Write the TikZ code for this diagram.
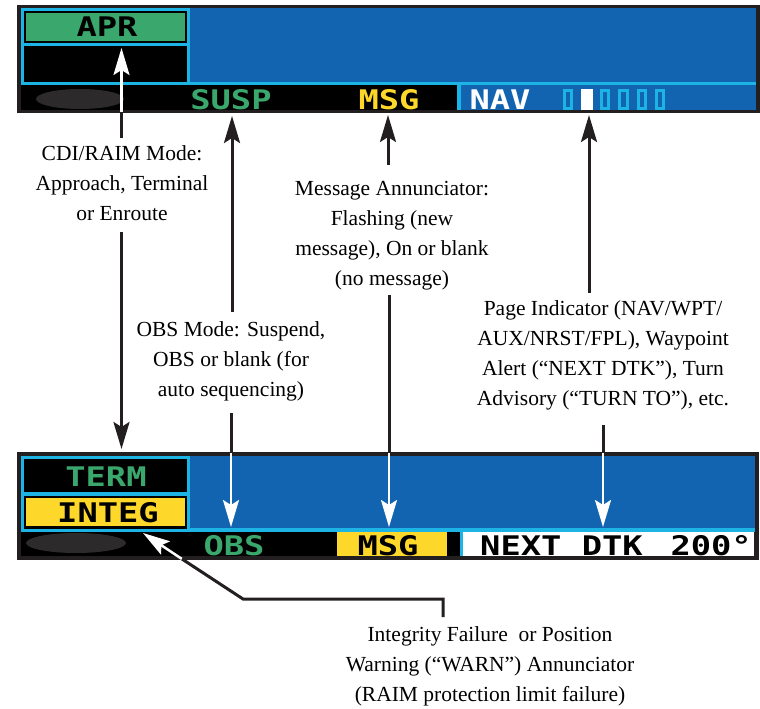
\documentclass[tikz,border=0pt]{standalone}
\usepackage{fontspec}
\setmainfont{Liberation Serif}
\newfontfamily\lcdfont{DejaVu Sans Mono}[FakeStretch=1.25]
\usetikzlibrary{arrows.meta}
\definecolor{bezel}{RGB}{35,31,32}
\definecolor{lcdblue}{RGB}{18,100,176}
\definecolor{lcdcyan}{RGB}{27,180,228}
\definecolor{lcdgreen}{RGB}{58,167,109}
\definecolor{lcdyellow}{RGB}{253,216,42}
\definecolor{smudge}{RGB}{45,42,43}

\begin{document}
\begin{tikzpicture}[x=1pt,y=-1pt,
    callout/.style={align=center,font=\fontsize{21.5}{30}\selectfont,inner sep=0pt,anchor=base},
    lcd/.style={font=\lcdfont\bfseries\fontsize{27}{27}\selectfont,inner sep=0pt,anchor=base},
    blackline/.style={line width=3pt,bezel},
    blackarrow/.style={blackline,-{Stealth[length=27pt,width=16pt,inset=5pt]}},
    whitearrow/.style={line width=2.5pt,white,-{Stealth[length=27pt,width=16pt,inset=5pt]}}]
  \useasboundingbox (0,0) rectangle (760,709);

  % upper display
  \fill[bezel] (17,5) rectangle (760,113);
  \fill[lcdblue] (21,8) rectangle (756,82);
  \fill[lcdcyan] (21,82) rectangle (756,85);
  \fill[black] (21,85) rectangle (457,110);
  \fill[lcdcyan] (457,85) rectangle (461,110);
  \fill[lcdblue] (461,85) rectangle (756,110);
  \fill[lcdcyan] (21,8) rectangle (190,85);
  \fill[black] (24,11.5) rectangle (187,43);
  \fill[lcdgreen] (26,13.5) rectangle (185,41);
  \fill[black] (24,46.5) rectangle (187,81.5);
  \fill[smudge] (80,99) ellipse [x radius=44pt,y radius=10pt];
  \foreach \i in {0,2,3,4,5}
    \draw[lcdcyan,line width=3pt] ({564.5+18.4*\i},90.5) rectangle ({571.8+18.4*\i},108);
  \fill[white] (581,89) rectangle (592.5,109.5);

  \node[lcd] (apr) at (107,37) {APR};
  \node[lcd,text=lcdgreen] (susp) at (231,109) {SUSP};
  \node[lcd,text=lcdyellow] (msgtop) at (389,109) {MSG};
  \node[lcd,text=white] (nav) at (500,109) {NAV};

  % lower display
  \fill[bezel] (17,452) rectangle (759,560);
  \fill[lcdblue] (21,456) rectangle (755,528);
  \fill[lcdcyan] (21,528) rectangle (755,532);
  \fill[black] (21,532) rectangle (460,556);
  \fill[lcdyellow] (336.5,532) rectangle (447,556);
  \fill[lcdcyan] (460,532) rectangle (462.5,556);
  \fill[white] (462.5,532) rectangle (754,556);
  \fill[lcdcyan] (21,456) rectangle (190,532);
  \fill[black] (23.5,458.5) rectangle (187,492);
  \fill[black] (23.5,495.5) rectangle (187,528.5);
  \fill[lcdyellow] (26,497.5) rectangle (184.5,526);
  \fill[smudge] (76,543) ellipse [x radius=50pt,y radius=10pt];

  \node[lcd,text=lcdgreen] (term) at (106,486) {TERM};
  \node[lcd] (integ) at (108,522) {INTEG};
  \node[lcd,text=lcdgreen] (obs) at (234,555) {OBS};
  \node[lcd] (msgbot) at (388,555) {MSG};
  \node[lcd,anchor=base west] (nextdtk) at (480,555) {NEXT DTK};
  \node[lcd,anchor=base east] (course) at (752,555) {200°};

  % callouts
  \node[callout] (cdi) at (122,220) {CDI/RAIM Mode:\\Approach, Terminal\\or Enroute};
  \node[callout] (obsmode) at (231,396) {OBS Mode: Suspend,\\OBS or blank (for\\auto sequencing)};
  \node[callout] (msgann) at (392,285) {Message Annunciator:\\Flashing (new\\message), On or blank\\(no message)};
  \node[callout] (pageind) at (603,405) {Page Indicator (NAV/WPT/\\AUX/NRST/FPL), Waypoint\\Alert (“NEXT DTK”), Turn\\Advisory (“TURN TO”), etc.};
  \node[callout] (integfail) at (490,701) {Integrity Failure~ or Position\\Warning (“WARN”) Annunciator\\(RAIM protection limit failure)};

  \coordinate (cdi up) at (121.5,138);
  \coordinate (cdi edge) at (121.5,112);
  \coordinate (apr tip) at (121.5,48);
  \coordinate (cdi down) at (121.5,232);
  \coordinate (term tip) at (121.5,449);
  \coordinate (obs up) at (232,312);
  \coordinate (susp tip) at (232,116);
  \coordinate (obs down) at (231,413);
  \coordinate (obs edge) at (231,453);
  \coordinate (obs tip) at (231,527);
  \coordinate (msg up) at (388,165);
  \coordinate (msg tip) at (388,115);
  \coordinate (msg down) at (389,295);
  \coordinate (msg edge) at (389,453);
  \coordinate (msgbot tip) at (389,527);
  \coordinate (page up) at (589,293);
  \coordinate (page tip) at (589,115);
  \coordinate (page down) at (603,425);
  \coordinate (page edge) at (603,453);
  \coordinate (dtk tip) at (603,527);
  \coordinate (integ start) at (443,617);
  \coordinate (integ elbow) at (443,599);
  \coordinate (integ bend) at (243,599);
  \coordinate (integ edge) at (182,559);
  \coordinate (integ tip) at (143,533);

  \draw[whitearrow] (cdi edge) -- (apr tip);
  \draw[blackline] (cdi up) -- (cdi edge);
  \draw[blackarrow] (cdi down) -- (term tip);
  \draw[blackarrow] (obs up) -- (susp tip);
  \draw[whitearrow] (obs edge) -- (obs tip);
  \draw[blackline] (obs down) -- (obs edge);
  \draw[blackarrow] (msg up) -- (msg tip);
  \draw[whitearrow] (msg edge) -- (msgbot tip);
  \draw[blackline] (msg down) -- (msg edge);
  \draw[blackarrow] (page up) -- (page tip);
  \draw[whitearrow] (page edge) -- (dtk tip);
  \draw[blackline] (page down) -- (page edge);
  \draw[whitearrow] (integ edge) -- (integ tip);
  \draw[blackline] (integ start) -- (integ elbow) -- (integ bend) -- (integ edge);
\end{tikzpicture}
\end{document}
